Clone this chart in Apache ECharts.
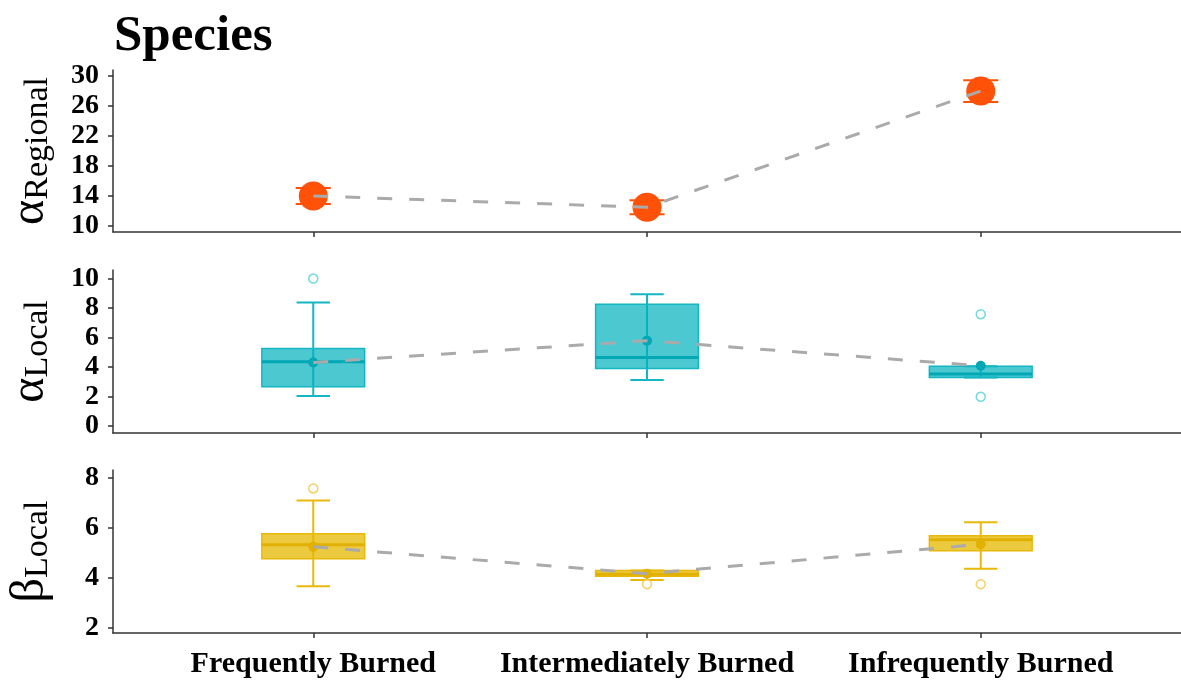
<!DOCTYPE html>
<html>
<head>
<meta charset="utf-8">
<script src="https://cdn.jsdelivr.net/npm/echarts@6/dist/echarts.min.js"></script>
<style>
  html, body { margin: 0; padding: 0; background: #ffffff; }
  #chart { width: 1181px; height: 685px; }
</style>
</head>
<body>
<div id="chart"></div>
<script>
// Fire-frequency classes along the x axis (positions 1..3)
const categories = ['Frequently Burned', 'Intermediately Burned', 'Infrequently Burned'];
const xPositions = [1, 2, 3];

// Regional alpha diversity: mean and standard error
const regionalMean = [14.0, 12.5, 28.0];
const regionalSE = [1.07, 0.93, 1.45];

// Local alpha diversity: [min, Q1, median, Q3, max], means and outliers
const alphaLocalBox = [
  [2.03, 2.66, 4.35, 5.25, 8.36],
  [3.11, 3.90, 4.64, 8.24, 8.92],
  [3.29, 3.29, 3.52, 4.05, 4.05]
];
const alphaLocalMean = [4.3, 5.78, 4.08];
const alphaLocalOutliers = [[1, 9.98], [3, 7.57], [3, 1.98]];

// Local beta diversity: [min, Q1, median, Q3, max], means and outliers
const betaLocalBox = [
  [3.67, 4.77, 5.33, 5.77, 7.11],
  [3.92, 4.07, 4.15, 4.30, 4.30],
  [4.37, 5.09, 5.53, 5.69, 6.23]
];
const betaLocalMean = [5.25, 4.17, 5.35];
const betaLocalOutliers = [[1, 7.59], [2, 3.75], [3, 3.75]];

// Tick values of each panel
const regionalTicks = [10, 14, 18, 22, 26, 30];
const alphaLocalTicks = [0, 2, 4, 6, 8, 10];
const betaLocalTicks = [2, 4, 6, 8];

const SERIF = '"Liberation Serif", "Times New Roman", serif';
const AXIS_COLOR = '#333333';
const TEAL = { line: '#14B6C2', fill: 'rgba(0, 176, 189, 0.70)', median: '#00A7B4', outlier: '#4FCFD8' };
const GOLD = { line: '#E8B90A', fill: 'rgba(230, 184, 0, 0.75)', median: '#E2B000', outlier: '#F0C640' };

function boxRenderer(colors) {
  return function (params, api) {
    const x = api.value(0);
    const cx = api.coord([x, api.value(1)])[0];
    const yMin = api.coord([x, api.value(1)])[1];
    const yQ1 = api.coord([x, api.value(2)])[1];
    const yMed = api.coord([x, api.value(3)])[1];
    const yQ3 = api.coord([x, api.value(4)])[1];
    const yMax = api.coord([x, api.value(5)])[1];
    const yMean = api.coord([x, api.value(6)])[1];
    const boxW = api.size([0.308, 0])[0];
    const capW = api.size([0.1, 0])[0];
    const lineStyle = { stroke: colors.line, lineWidth: 2 };
    return {
      type: 'group',
      children: [
        { type: 'line', shape: { x1: cx, y1: yMax, x2: cx, y2: yMin }, style: lineStyle },
        { type: 'line', shape: { x1: cx - capW / 2, y1: yMax, x2: cx + capW / 2, y2: yMax }, style: lineStyle },
        { type: 'line', shape: { x1: cx - capW / 2, y1: yMin, x2: cx + capW / 2, y2: yMin }, style: lineStyle },
        { type: 'rect', shape: { x: cx - boxW / 2, y: yQ3, width: boxW, height: yQ1 - yQ3 },
          style: { fill: colors.fill, stroke: colors.line, lineWidth: 1.5 } },
        { type: 'line', shape: { x1: cx - boxW / 2, y1: yMed, x2: cx + boxW / 2, y2: yMed },
          style: { stroke: colors.median, lineWidth: 3 } },
        { type: 'circle', shape: { cx: cx, cy: yMean, r: 5 }, style: { fill: colors.median } }
      ]
    };
  };
}

function errorBarRenderer(params, api) {
  const x = api.value(0);
  const lo = api.coord([x, api.value(1)]);
  const hi = api.coord([x, api.value(2)]);
  const capW = api.size([0.105, 0])[0];
  const style = { stroke: '#FF5108', lineWidth: 2 };
  return {
    type: 'group',
    children: [
      { type: 'line', shape: { x1: lo[0], y1: lo[1], x2: hi[0], y2: hi[1] }, style: style },
      { type: 'line', shape: { x1: lo[0] - capW / 2, y1: lo[1], x2: lo[0] + capW / 2, y2: lo[1] }, style: style },
      { type: 'line', shape: { x1: hi[0] - capW / 2, y1: hi[1], x2: hi[0] + capW / 2, y2: hi[1] }, style: style }
    ]
  };
}

function xAxisFor(gridIndex, showLabels) {
  return {
    type: 'value', gridIndex: gridIndex, min: 0.4, max: 3.6,
    splitLine: { show: false },
    axisLine: { show: true, onZero: false, lineStyle: { color: AXIS_COLOR, width: 1.5 } },
    axisTick: { show: true, customValues: xPositions, length: 5, lineStyle: { color: AXIS_COLOR, width: 1.5 } },
    axisLabel: {
      show: showLabels, customValues: xPositions, margin: 16,
      formatter: v => categories[Math.round(v) - 1] || '',
      fontFamily: SERIF, fontWeight: 'bold', fontSize: 30, color: '#000'
    }
  };
}

function yAxisFor(gridIndex, min, max, ticks, greek, sub) {
  return {
    type: 'value', gridIndex: gridIndex, min: min, max: max,
    splitLine: { show: false },
    axisLine: { show: true, onZero: false, lineStyle: { color: AXIS_COLOR, width: 1.5 } },
    axisTick: { show: true, customValues: ticks, length: 5, lineStyle: { color: AXIS_COLOR, width: 1.5 } },
    axisLabel: {
      customValues: ticks, margin: 14,
      fontFamily: SERIF, fontWeight: 'bold', fontSize: 28, color: '#000'
    },
    name: '{g|' + greek + '}{s|' + sub + '}',
    nameLocation: 'middle', nameRotate: 90, nameGap: 58,
    nameTextStyle: {
      rich: {
        g: { fontFamily: SERIF, fontSize: 48, color: '#000' },
        s: { fontFamily: SERIF, fontSize: 34, color: '#000', padding: [16, 0, 0, 0] }
      }
    }
  };
}

const chart = echarts.init(document.getElementById('chart'), null, { renderer: 'canvas' });

const gridBase = { left: 113, right: 0, outerBoundsMode: 'none', containLabel: false };

chart.setOption({
  backgroundColor: '#ffffff',
  animation: false,
  title: {
    text: 'Species', left: 109, top: 6,
    textStyle: { fontFamily: SERIF, fontWeight: 'bold', fontSize: 51, color: '#000' }
  },
  grid: [
    Object.assign({ top: 70, height: 162 }, gridBase),
    Object.assign({ top: 270, height: 163 }, gridBase),
    Object.assign({ top: 470, height: 163 }, gridBase)
  ],
  xAxis: [xAxisFor(0, false), xAxisFor(1, false), xAxisFor(2, true)],
  yAxis: [
    yAxisFor(0, 9.2, 30.8, regionalTicks, 'α', 'Regional'),
    yAxisFor(1, -0.47, 10.56, alphaLocalTicks, 'α', 'Local'),
    yAxisFor(2, 1.79, 8.33, betaLocalTicks, 'β', 'Local')
  ],
  series: [
    // Panel 1: regional alpha, mean ± SE
    {
      type: 'custom', xAxisIndex: 0, yAxisIndex: 0, z: 2,
      renderItem: errorBarRenderer,
      encode: { x: 0, y: [1, 2] },
      data: regionalMean.map((m, i) => [xPositions[i], m - regionalSE[i], m + regionalSE[i]])
    },
    {
      type: 'scatter', xAxisIndex: 0, yAxisIndex: 0, z: 3,
      symbol: 'circle', symbolSize: 29,
      itemStyle: { color: '#FF5108', opacity: 1 },
      data: regionalMean.map((m, i) => [xPositions[i], m])
    },
    {
      type: 'line', xAxisIndex: 0, yAxisIndex: 0, z: 4,
      symbol: 'none',
      lineStyle: { color: '#AAAAAA', width: 3, type: [15, 17] },
      data: regionalMean.map((m, i) => [xPositions[i], m])
    },
    // Panel 2: local alpha boxes
    {
      type: 'custom', xAxisIndex: 1, yAxisIndex: 1, z: 2,
      renderItem: boxRenderer(TEAL),
      encode: { x: 0, y: [1, 2, 3, 4, 5, 6] },
      data: alphaLocalBox.map((b, i) => [xPositions[i]].concat(b, [alphaLocalMean[i]]))
    },
    {
      type: 'scatter', xAxisIndex: 1, yAxisIndex: 1, z: 3,
      symbol: 'circle', symbolSize: 9,
      itemStyle: { color: '#ffffff', borderColor: TEAL.outlier, borderWidth: 1.5 },
      data: alphaLocalOutliers
    },
    {
      type: 'line', xAxisIndex: 1, yAxisIndex: 1, z: 4,
      symbol: 'none',
      lineStyle: { color: '#AAAAAA', width: 3, type: [15, 17] },
      data: alphaLocalMean.map((m, i) => [xPositions[i], m])
    },
    // Panel 3: local beta boxes
    {
      type: 'custom', xAxisIndex: 2, yAxisIndex: 2, z: 2,
      renderItem: boxRenderer(GOLD),
      encode: { x: 0, y: [1, 2, 3, 4, 5, 6] },
      data: betaLocalBox.map((b, i) => [xPositions[i]].concat(b, [betaLocalMean[i]]))
    },
    {
      type: 'scatter', xAxisIndex: 2, yAxisIndex: 2, z: 3,
      symbol: 'circle', symbolSize: 9,
      itemStyle: { color: '#ffffff', borderColor: GOLD.outlier, borderWidth: 1.5 },
      data: betaLocalOutliers
    },
    {
      type: 'line', xAxisIndex: 2, yAxisIndex: 2, z: 4,
      symbol: 'none',
      lineStyle: { color: '#AAAAAA', width: 3, type: [15, 17] },
      data: betaLocalMean.map((m, i) => [xPositions[i], m])
    }
  ]
});
</script>
</body>
</html>
